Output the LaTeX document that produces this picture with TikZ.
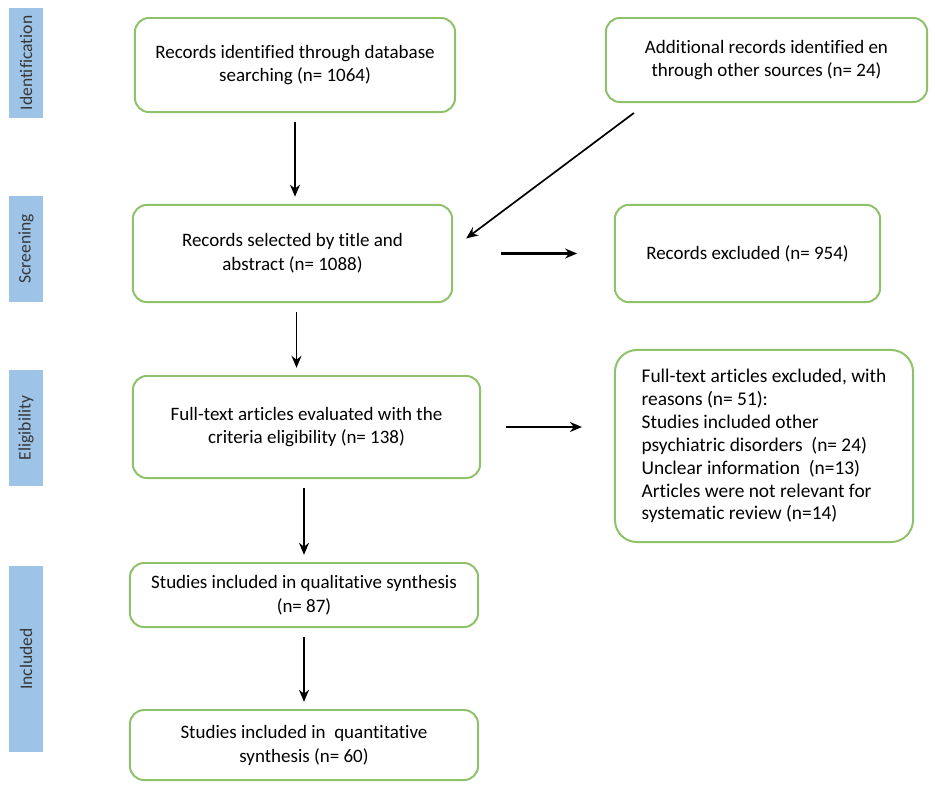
\documentclass[tikz,border=0pt]{standalone}
\usepackage{fontspec}
\setmainfont{Carlito}[Ligatures=NoCommon]
\usepackage{xcolor}
\usepackage{tikz}
\usetikzlibrary{arrows.meta,calc}
\definecolor{boxgreen}{RGB}{141,194,105}
\definecolor{barblue}{RGB}{157,195,230}
\definecolor{bartext}{RGB}{55,55,55}

\tikzset{
	stage/.style={draw=boxgreen, line width=1.4pt, rounded corners=0.35cm, align=center, font=\fontsize{13.5}{17}\selectfont, inner sep=2pt},
	phase/.style={fill=barblue, rotate=90, minimum height=0.85cm, text=bartext, font=\fontsize{12.5}{14}\selectfont},
	flow/.style={-{Stealth[length=3mm,width=2.5mm]}, line width=1.1pt, shorten <=0.22cm, shorten >=0.18cm},
	sideflow/.style={-{Stealth[length=3mm,width=2.5mm]}, line width=1.8pt},
}

\begin{document}
\begin{tikzpicture}[x=0.025cm,y=-0.025cm]
		\useasboundingbox (0,0) rectangle (935,791);
		\node[phase, minimum width=2.75cm] (ident) at (26,63) {Identification};
		\node[phase, minimum width=2.65cm] (screen) at (26,249) {Screening};
		\node[phase, minimum width=2.9cm] (elig) at (26,428) {Eligibility};
		\node[phase, minimum width=4.65cm] (incl) at (26,659) {Included};
		
		\node[stage, minimum width=8cm, minimum height=2.35cm] (database) at (295,65) {Records identified through database\\searching (n= 1064)};
		\node[stage, minimum width=8.03cm, minimum height=2.1cm] (other) at (766.5,60) {Additional records identified en\\through other sources (n= 24)};
		\node[stage, minimum width=7.98cm, minimum height=2.43cm] (selected) at (292.5,253.5) {Records selected by title and\\abstract (n= 1088)};
		\node[stage, minimum width=6.63cm, minimum height=2.43cm] (excluded) at (747.5,253.5) {Records excluded (n= 954)};
		\node[stage, minimum width=8.68cm, minimum height=2.55cm] (fulltext) at (306.5,427) {Full-text articles evaluated with the\\criteria eligibility (n= 138)};
		\node[stage, align=left, rounded corners=0.55cm, font=\fontsize{13.8}{16.3}\selectfont, minimum width=7.45cm, minimum height=4.8cm] (reasons) at (764,446) {Full-text articles excluded, with\\reasons (n= 51):\\Studies included other\\psychiatric disorders~~(n= 24)\\Unclear information~~(n=13)\\Articles were not relevant for\\systematic review (n=14)};
		\node[stage, minimum width=8.7cm, minimum height=1.6cm] (qualit) at (304,595) {Studies included in qualitative synthesis\\(n= 87)};
		\node[stage, minimum width=8.7cm, minimum height=1.75cm] (quantit) at (304,745) {Studies included in~~quantitative\\synthesis (n= 60)};
		
		\draw[flow] (database.south) -- (database.south |- selected.north);
		\draw[flow] ([xshift=0.1cm]selected.south) -- ([xshift=0.1cm]selected.south |- fulltext.north);
		\draw[flow] (qualit.south |- fulltext.south) -- (qualit.north);
		\draw[flow] (qualit.south) -- (quantit.north);
		\draw[-{Stealth[length=3mm,width=2.5mm]}, line width=1.2pt] ($(other.south west)+(29,10)$) -- ($(selected.east)+(13,-15)$);
		\draw[sideflow] ([xshift=1.2cm]selected.east) -- ([xshift=-0.92cm]excluded.west);
		\draw[sideflow] ([xshift=0.62cm]fulltext.east) -- ([xshift=-0.8cm]fulltext.east -| reasons.west);
	\end{tikzpicture}
\end{document}
